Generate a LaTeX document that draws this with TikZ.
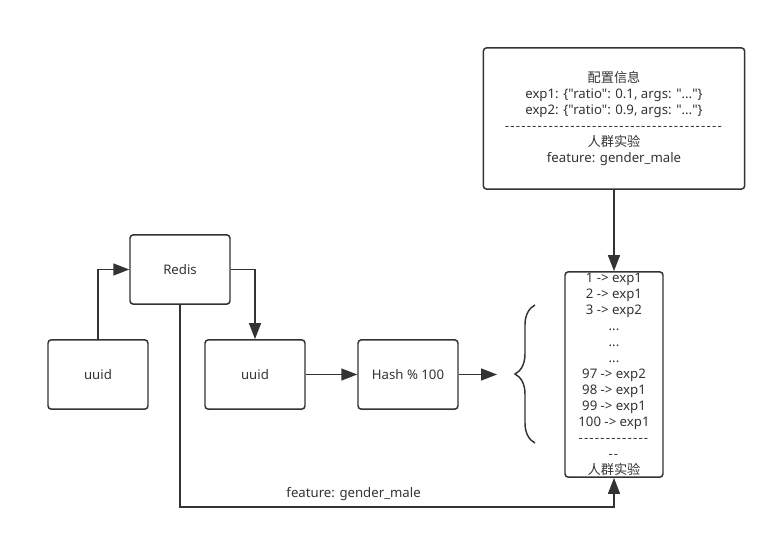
\documentclass[tikz,border=0pt]{standalone}
\usepackage{fontspec}
\setmainfont{Noto Sans}[Ligatures=TeXOff]
\newfontfamily\cjk{Noto Sans CJK SC}[Ligatures=TeXOff]
\usetikzlibrary{arrows.meta,decorations.pathreplacing}
\definecolor{ink}{HTML}{333333}
\newcommand{\dashrow}[1]{\foreach \d in {1,...,#1}{-\kern0.9pt}}
\begin{document}
\begin{tikzpicture}[x=0.75pt,y=-0.75pt,
		font=\fontsize{9.9}{12}\selectfont, text=ink,
		box/.style={draw=ink,line width=1.1pt,rounded corners=2.5pt,minimum width=75pt,minimum height=52pt},
		arr/.style={draw=ink,line width=1.1pt,-{Triangle[length=12pt,width=9pt]}}]
	\useasboundingbox (0,0) rectangle (776,543);
		\node[box] (uuidA) at (98,374.5) {uuid};
		\node[box] (redis) at (180,269.5) {Redis};
		\node[box] (uuidB) at (255,374.5) {uuid};
		\node[box] (hash) at (408,374.5) {Hash \% 100};
		\node[box,minimum width=196pt,minimum height=106pt,align=center] (conf) at (614,118.5)
			{{\cjk 配置信息}\\exp1: \{"ratio": 0.1, args: "..."\}\\exp2: \{"ratio": 0.9, args: "..."\}\\\dashrow{40}\\{\cjk 人群实验}\\feature: gender\_male};
		\node[box,minimum width=73.5pt,minimum height=154pt] (bucket) at (614,374.5) {};
		\node[align=center,inner sep=0pt] (buckettext) at (614,374)
			{1 -> exp1\\2 -> exp1\\3 -> exp2\\...\\...\\...\\97 -> exp2\\98 -> exp1\\99 -> exp1\\100 -> exp1\\\dashrow{13}\\\dashrow{2}\\{\cjk 人群实验}};
		\coordinate (hashend) at (497,374.5);
		\coordinate (bottomline) at (0,507);
		\draw[arr] (uuidA.north) |- (redis.west);
		\draw[arr] (redis.east) -| (uuidB.north);
		\draw[arr] (uuidB) -- (hash);
		\draw[arr] (hash) -- (hashend);
		\draw[arr] (conf) -- (bucket);
		\draw[arr] (redis.south) |- (bottomline -| bucket.south)
			node[pos=0.7,above=1pt] (featlabel) {feature: gender\_male} -- (bucket.south);
		% brace in front of the bucket list
		\draw[ink,line width=1.1pt,decorate,decoration={brace,amplitude=15pt}] (535,443) -- (535,305);
	\end{tikzpicture}
\end{document}
